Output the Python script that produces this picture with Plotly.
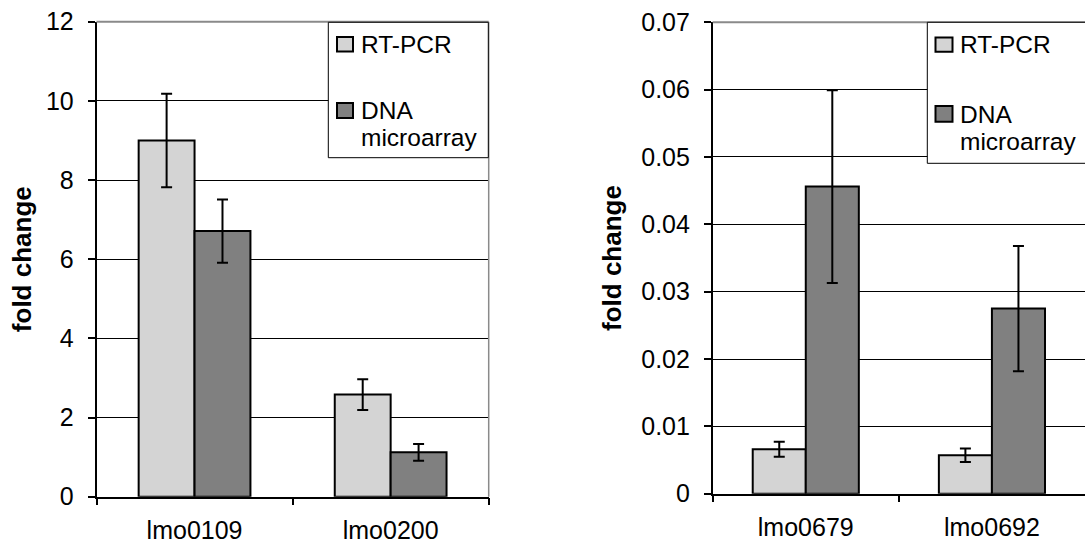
import plotly.graph_objects as go

# ---- data ----
genes_left = ["lmo0109", "lmo0200"]
rtpcr_left = [9.0, 2.58]
rtpcr_left_err = [1.18, 0.39]
array_left = [6.71, 1.12]
array_left_err = [0.80, 0.21]

genes_right = ["lmo0679", "lmo0692"]
rtpcr_right = [0.0066, 0.0057]
rtpcr_right_err = [0.0011, 0.0010]
array_right = [0.0456, 0.0275]
array_right_err = [0.0143, 0.0093]

series_names = ["RT-PCR", "DNA microarray"]
y_title = "fold change"

# ---- styles ----
W, H = 1085, 546
FONT = "Liberation Sans, Arial, sans-serif"
C_RT = "#D4D4D4"
C_ARR = "#808080"
TICK_SIZE = 25
LEG_SIZE = 24.5
TITLE_SIZE = 26

def px(x):
    return x / W

def py(y):
    return 1 - y / H

fig = go.Figure()

def add_bars(genes, rt, rt_err, arr, arr_err, xa, ya):
    for name, vals, errs, col in [(series_names[0], rt, rt_err, C_RT),
                                   (series_names[1], arr, arr_err, C_ARR)]:
        fig.add_trace(go.Bar(
            x=genes, y=vals, name=name, xaxis=xa, yaxis=ya,
            marker=dict(color=col, line=dict(color="black", width=2)),
            error_y=dict(type="data", array=errs, color="black",
                         thickness=2, width=5.5),
            showlegend=False,
        ))

add_bars(genes_left, rtpcr_left, rtpcr_left_err, array_left, array_left_err, "x", "y")
add_bars(genes_right, rtpcr_right, rtpcr_right_err, array_right, array_right_err, "x2", "y2")

xcommon = dict(type="category", range=[-0.5, 1.5], showline=True, linecolor="black",
               linewidth=1.5, ticks="outside", ticklen=7, tickwidth=1.5, tickcolor="black",
               tickson="boundaries", showgrid=False,
               tickfont=dict(family=FONT, size=TICK_SIZE, color="black"),
               ticklabelstandoff=11)
ycommon = dict(showline=True, linecolor="black", linewidth=1.5, ticks="outside",
               ticklen=7, tickwidth=1.5, tickcolor="black", showgrid=True,
               gridcolor="black", gridwidth=1, zeroline=False, automargin=False,
               tickfont=dict(family=FONT, size=TICK_SIZE, color="black"),
               ticklabelstandoff=9)

fig.update_layout(
    width=W, height=H, autosize=False,
    margin=dict(l=0, r=0, t=0, b=0),
    paper_bgcolor="white", plot_bgcolor="white",
    barmode="group", bargap=0.43, bargroupgap=0,
    font=dict(family=FONT, color="black"),
    xaxis=dict(domain=[px(96.5), px(488.7)], anchor="y", **xcommon),
    yaxis=dict(domain=[py(496.7), py(21.7)], anchor="x", range=[0, 12], dtick=2,
               title=dict(text="<b>" + y_title + "</b>", standoff=7,
                          font=dict(family=FONT, size=TITLE_SIZE, color="black")),
               **ycommon),
    xaxis2=dict(domain=[px(712.7), 1.0], anchor="y2", **xcommon),
    yaxis2=dict(domain=[py(493.7), py(22.3)], anchor="x2", range=[0, 0.07], dtick=0.01,
                title=dict(text="<b>" + y_title + "</b>", standoff=12,
                           font=dict(family=FONT, size=TITLE_SIZE, color="black")),
                **ycommon),
)

shapes = []
annotations = []
# gray frame (top + right) of left plot, top of right plot
shapes.append(dict(type="line", xref="x domain", yref="y domain", x0=0, x1=1, y0=1, y1=1,
                   line=dict(color="#8a8a8a", width=2), layer="above"))
shapes.append(dict(type="line", xref="x domain", yref="y domain", x0=1, x1=1, y0=0, y1=1,
                   line=dict(color="#8a8a8a", width=1.5), layer="above"))
shapes.append(dict(type="line", xref="x2 domain", yref="y2 domain", x0=0, x1=1, y0=1, y1=1,
                   line=dict(color="#8a8a8a", width=2), layer="above"))

def add_legend(box, sq1, sq2, tx, y_rt, y_dna, y_micro):
    x0, y0, x1, y1 = box
    shapes.append(dict(type="rect", xref="paper", yref="paper",
                       x0=px(x0), x1=px(x1), y0=py(y1), y1=py(y0),
                       fillcolor="white", line=dict(color="black", width=1), layer="above"))
    for (sx0, sy0, sx1, sy1), col in [(sq1, C_RT), (sq2, C_ARR)]:
        shapes.append(dict(type="rect", xref="paper", yref="paper",
                           x0=px(sx0), x1=px(sx1), y0=py(sy1), y1=py(sy0),
                           fillcolor=col, line=dict(color="black", width=2), layer="above"))
    words = series_names[1].split(" ")
    for text, yy in [(series_names[0], y_rt), (words[0], y_dna), (words[1], y_micro)]:
        annotations.append(dict(text=text, xref="paper", yref="paper", x=px(tx), y=py(yy),
                                xanchor="left", yanchor="middle", showarrow=False,
                                font=dict(family=FONT, size=LEG_SIZE, color="black")))

add_legend((328.3, 22.3, 488.3, 157.7), (337, 37, 353, 51.5), (337, 103, 353, 118),
           358.5, 44, 111, 137)
add_legend((927.3, 22.3, 1100, 163.3), (935.5, 37.5, 952.5, 51.7), (935.5, 106, 952.5, 121.7),
           957.5, 44.5, 114, 142)

fig.update_layout(shapes=shapes, annotations=annotations)

fig.write_html("out.html")
